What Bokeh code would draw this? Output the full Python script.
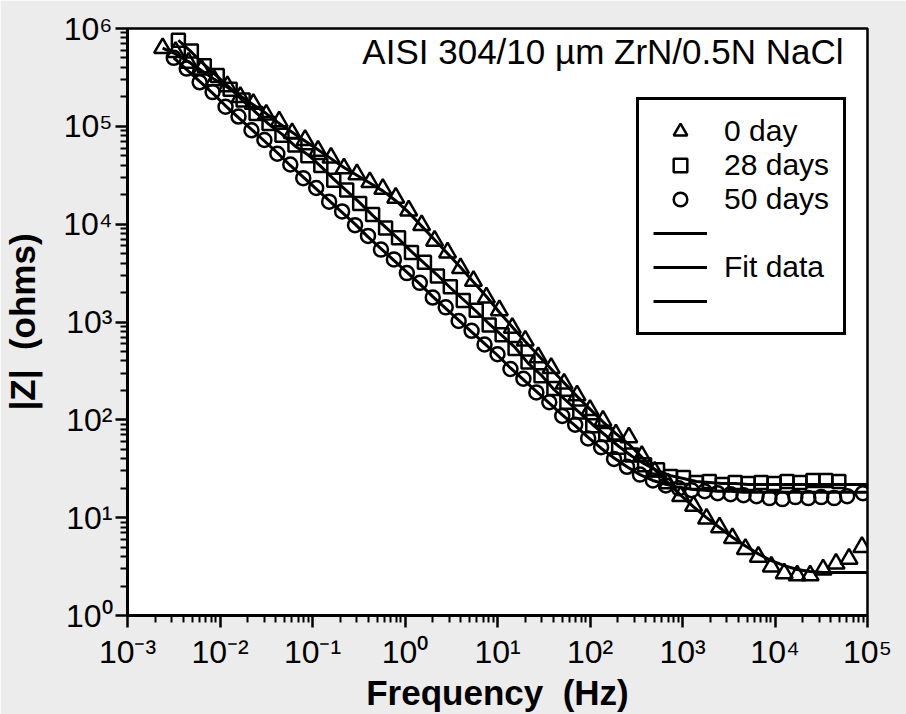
import math
from bokeh.plotting import figure
from bokeh.models import FixedTicker, Label, Legend, LegendItem, CustomJSTickFormatter, Range1d
from bokeh.embed import file_html
from bokeh.resources import INLINE

# ---- data (log10 of frequency in Hz, log10 of |Z| in ohms) ----
f_day0_log = [-2.62, -2.48, -2.34, -2.20, -2.06, -1.92, -1.78, -1.64, -1.50, -1.36,
              -1.22, -1.08, -0.94, -0.80, -0.66, -0.52, -0.38, -0.24, -0.10, 0.04,
              0.18, 0.32, 0.46, 0.60, 0.74, 0.88, 1.02, 1.16, 1.30, 1.44,
              1.58, 1.72, 1.86, 2.00, 2.14, 2.28, 2.42, 2.56, 2.70, 2.84,
              2.98, 3.12, 3.26, 3.40, 3.54, 3.68, 3.82, 3.96, 4.10, 4.24,
              4.38, 4.52, 4.66, 4.80, 4.94]
z_day0_log = [5.80, 5.76, 5.65, 5.58, 5.47, 5.41, 5.30, 5.23, 5.12, 5.05,
              4.93, 4.86, 4.75, 4.68, 4.57, 4.51, 4.43, 4.36, 4.27, 4.14,
              3.99, 3.83, 3.71, 3.55, 3.42, 3.25, 3.12, 2.94, 2.81, 2.64,
              2.53, 2.37, 2.25, 2.10, 1.99, 1.85, 1.82, 1.63, 1.47, 1.35,
              1.22, 1.12, 0.99, 0.90, 0.79, 0.68, 0.60, 0.50, 0.43, 0.41,
              0.41, 0.47, 0.53, 0.58, 0.70]
fit_day0_log = [5.80, 5.74, 5.66, 5.57, 5.48, 5.40, 5.31, 5.22, 5.13, 5.03,
                4.94, 4.85, 4.76, 4.67, 4.58, 4.50, 4.42, 4.34, 4.24, 4.12,
                3.98, 3.84, 3.70, 3.56, 3.41, 3.26, 3.10, 2.95, 2.80, 2.66,
                2.52, 2.38, 2.24, 2.11, 1.98, 1.86, 1.75, 1.62, 1.49, 1.36,
                1.23, 1.11, 1.00, 0.90, 0.80, 0.71, 0.63, 0.56, 0.51, 0.47,
                0.45, 0.44, 0.44, 0.44, 0.44, 0.44]

f_day28_log = [-2.45, -2.31, -2.17, -2.03, -1.89, -1.75, -1.61, -1.47, -1.33, -1.19,
               -1.05, -0.91, -0.77, -0.63, -0.49, -0.35, -0.21, -0.07, 0.07, 0.21,
               0.35, 0.49, 0.63, 0.77, 0.91, 1.05, 1.19, 1.33, 1.47, 1.61,
               1.75, 1.89, 2.03, 2.17, 2.31, 2.45, 2.59, 2.73, 2.87, 3.01,
               3.15, 3.29, 3.43, 3.57, 3.71, 3.85, 3.99, 4.13, 4.27, 4.41,
               4.55, 4.69]
z_day28_log = [5.88, 5.77, 5.62, 5.52, 5.38, 5.27, 5.13, 5.03, 4.91, 4.81,
               4.70, 4.60, 4.45, 4.35, 4.21, 4.10, 3.96, 3.86, 3.71, 3.61,
               3.47, 3.36, 3.22, 3.12, 2.97, 2.87, 2.73, 2.59, 2.45, 2.32,
               2.18, 2.08, 1.94, 1.85, 1.72, 1.64, 1.54, 1.49, 1.42, 1.41,
               1.36, 1.37, 1.34, 1.36, 1.35, 1.36, 1.35, 1.37, 1.36, 1.38,
               1.38, 1.37]
fit_day28_log = [5.88, 5.76, 5.63, 5.51, 5.39, 5.26, 5.14, 5.02, 4.92, 4.80,
                 4.71, 4.59, 4.46, 4.34, 4.22, 4.09, 3.97, 3.85, 3.72, 3.60,
                 3.48, 3.35, 3.23, 3.11, 2.98, 2.86, 2.74, 2.58, 2.46, 2.31,
                 2.19, 2.07, 1.95, 1.84, 1.73, 1.63, 1.55, 1.48, 1.43, 1.40,
                 1.37, 1.36, 1.35, 1.35, 1.34, 1.34, 1.34, 1.34, 1.34, 1.34,
                 1.34, 1.34, 1.34]

f_day50_log = [-2.50, -2.36, -2.22, -2.08, -1.94, -1.80, -1.66, -1.52, -1.38, -1.24,
               -1.10, -0.96, -0.82, -0.68, -0.54, -0.40, -0.26, -0.12, 0.02, 0.16,
               0.30, 0.44, 0.58, 0.72, 0.86, 1.00, 1.14, 1.28, 1.42, 1.56,
               1.70, 1.84, 1.98, 2.12, 2.26, 2.40, 2.54, 2.68, 2.82, 2.96,
               3.10, 3.24, 3.38, 3.52, 3.66, 3.80, 3.94, 4.08, 4.22, 4.36,
               4.50, 4.64, 4.78, 4.95]
z_day50_log = [5.70, 5.59, 5.45, 5.35, 5.20, 5.10, 4.96, 4.86, 4.72, 4.61,
               4.47, 4.37, 4.23, 4.13, 3.99, 3.88, 3.74, 3.64, 3.50, 3.40,
               3.25, 3.15, 3.01, 2.91, 2.77, 2.67, 2.52, 2.42, 2.28, 2.18,
               2.04, 1.95, 1.81, 1.72, 1.60, 1.52, 1.44, 1.38, 1.33, 1.30,
               1.28, 1.27, 1.25, 1.24, 1.23, 1.22, 1.20, 1.19, 1.21, 1.20,
               1.21, 1.20, 1.22, 1.25]
fit_day50_log = [5.70, 5.58, 5.46, 5.34, 5.21, 5.09, 4.97, 4.85, 4.73, 4.60,
                 4.48, 4.36, 4.24, 4.12, 4.00, 3.87, 3.75, 3.63, 3.51, 3.39,
                 3.26, 3.14, 3.02, 2.90, 2.78, 2.66, 2.53, 2.41, 2.29, 2.17,
                 2.05, 1.94, 1.82, 1.71, 1.61, 1.52, 1.44, 1.38, 1.34, 1.31,
                 1.29, 1.28, 1.27, 1.27, 1.26, 1.26, 1.26, 1.26, 1.26, 1.26,
                 1.26, 1.26, 1.26, 1.26, 1.26]

fit_end_log = 5.0
x_exponents = [-3, -2, -1, 0, 1, 2, 3, 4, 5]
y_exponents = [0, 1, 2, 3, 4, 5, 6]
x_tick_labels = ["10\u207b\u00b3", "10\u207b\u00b2", "10\u207b\u00b9", "10\u2070", "10\u00b9",
                 "10\u00b2", "10\u00b3", "10\u2074", "10\u2075"]
y_tick_labels = ["10\u2070", "10\u00b9", "10\u00b2", "10\u00b3", "10\u2074", "10\u2075", "10\u2076"]
legend_labels = ["0 day", "28 days", "50 days", " ", "Fit data", " "]
title_text = "AISI 304/10 \u00b5m ZrN/0.5N NaCl"
x_title = "Frequency\u00a0 (Hz)"
y_title = "|Z|\u00a0 (ohms)"

FONT = "Liberation Sans"


def pw(vals):
    return [10 ** v for v in vals]


p = figure(width=906, height=714, x_axis_type="log", y_axis_type="log",
           x_range=Range1d(1e-3, 1e5), y_range=Range1d(1, 1e6),
           output_backend="svg", toolbar_location=None, title=None,
           min_border_left=127, min_border_right=39, min_border_top=28, min_border_bottom=99)
p.background_fill_color = "white"
p.border_fill_color = "#ececec"
p.outline_line_color = "black"
p.outline_line_width = 2.5
p.grid.visible = False

p.xaxis.ticker = FixedTicker(ticks=[10.0 ** e for e in x_exponents],
                             minor_ticks=[m * 10.0 ** e for e in x_exponents[:-1] for m in range(2, 10)])
p.yaxis.ticker = FixedTicker(ticks=[10.0 ** e for e in y_exponents],
                             minor_ticks=[m * 10.0 ** e for e in y_exponents[:-1] for m in range(2, 10)])
fmt_code = ("const e = Math.round(Math.log10(tick)); const i = exps.indexOf(e); "
            "return i >= 0 ? texts[i] : '';")
p.xaxis[0].formatter = CustomJSTickFormatter(args=dict(exps=x_exponents, texts=x_tick_labels), code=fmt_code)
p.yaxis[0].formatter = CustomJSTickFormatter(args=dict(exps=y_exponents, texts=y_tick_labels), code=fmt_code)
for ax in (p.xaxis[0], p.yaxis[0]):
    ax.axis_line_width = 3
    ax.axis_line_color = "black"
    ax.major_tick_line_width = 2.5
    ax.minor_tick_line_width = 2
    ax.major_tick_line_color = "black"
    ax.minor_tick_line_color = "black"
    ax.major_tick_out = 12
    ax.major_tick_in = 0
    ax.minor_tick_out = 7
    ax.minor_tick_in = 0
    ax.major_label_text_font = FONT
    ax.major_label_text_font_size = "32px"
    ax.major_label_text_color = "black"
    ax.axis_label_text_font = FONT
    ax.axis_label_text_font_size = "35px"
    ax.axis_label_text_font_style = "bold"
    ax.axis_label_text_color = "black"
p.xaxis[0].major_label_standoff = 6
p.xaxis[0].axis_label = x_title
p.xaxis[0].axis_label_standoff = 0
p.yaxis[0].major_label_standoff = 3
p.yaxis[0].major_label_orientation = "horizontal"
p.yaxis[0].axis_label = y_title
p.yaxis[0].axis_label_standoff = 18

# fit lines
fit0 = p.line(pw(f_day0_log[:len(fit_day0_log) - 1] + [fit_end_log]), pw(fit_day0_log),
              line_color="black", line_width=3)
fit28 = p.line(pw(f_day28_log + [fit_end_log]), pw(fit_day28_log),
               line_color="black", line_width=3)
fit50 = p.line(pw(f_day50_log + [fit_end_log]), pw(fit_day50_log),
               line_color="black", line_width=3)

# data markers
r0 = p.scatter(pw(f_day0_log), pw(z_day0_log), marker="triangle", size=17,
               fill_alpha=0, line_color="black", line_width=2.5)
r28 = p.scatter(pw(f_day28_log), pw(z_day28_log), marker="square", size=13,
                fill_alpha=0, line_color="black", line_width=2.5)
r50 = p.scatter(pw(f_day50_log), pw(z_day50_log), marker="circle", size=14,
                fill_alpha=0, line_color="black", line_width=2.5)

legend = Legend(items=[LegendItem(label=legend_labels[0], renderers=[r0]),
                       LegendItem(label=legend_labels[1], renderers=[r28]),
                       LegendItem(label=legend_labels[2], renderers=[r50]),
                       LegendItem(label=legend_labels[3], renderers=[fit0]),
                       LegendItem(label=legend_labels[4], renderers=[fit28]),
                       LegendItem(label=legend_labels[5], renderers=[fit50])],
                location=(509, 280), margin=0, padding=14, spacing=0,
                glyph_width=54, glyph_height=34, label_height=34, label_standoff=17,
                label_text_font=FONT, label_text_font_size="30px", label_text_color="black",
                border_line_color="black", border_line_width=3, border_line_alpha=1,
                background_fill_color="white", background_fill_alpha=1)
p.add_layout(legend)

# chart caption inside the frame
p.add_layout(Label(x=1e5, y=1e6, x_offset=-24, y_offset=-23, text=title_text,
                   text_align="right", text_baseline="middle",
                   text_font=FONT, text_font_size="35px", text_color="black"))

open("out.html", "w").write(file_html(p, INLINE))
